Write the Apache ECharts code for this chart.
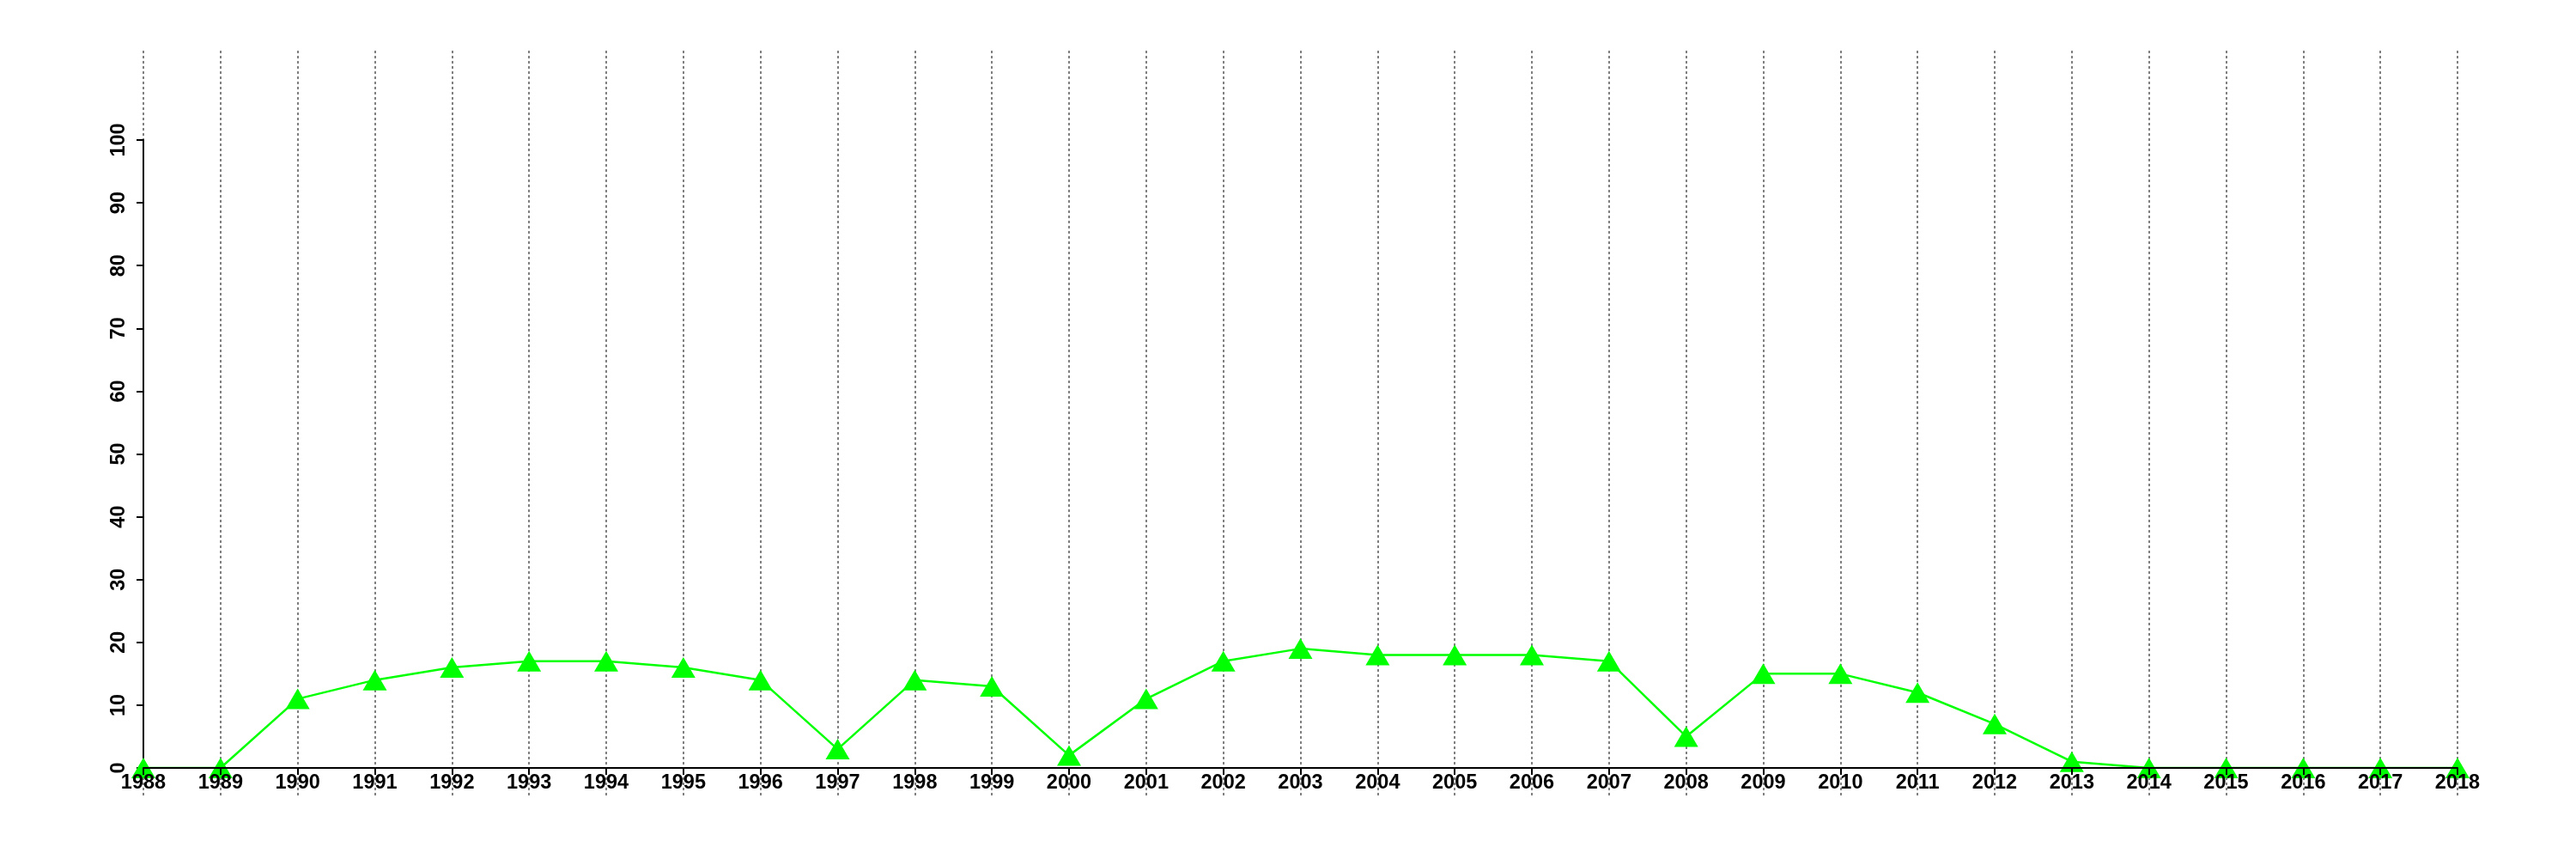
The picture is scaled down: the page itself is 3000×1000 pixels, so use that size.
<!DOCTYPE html>
<html><head><meta charset="utf-8">
<script src="https://cdn.jsdelivr.net/npm/echarts@6/dist/echarts.min.js"></script>
<style>html,body{margin:0;padding:0;background:#fff}#c{width:3000px;height:1000px}</style>
</head><body><div id="c"></div>
<script>
const years = ['1988','1989','1990','1991','1992','1993','1994','1995','1996','1997','1998','1999','2000','2001','2002','2003','2004','2005','2006','2007','2008','2009','2010','2011','2012','2013','2014','2015','2016','2017','2018'];
const values = [0,0,11,14,16,17,17,16,14,3,14,13,2,11,17,19,18,18,18,17,5,15,15,12,7,1,0,0,0,0,0];
const yTicks = [0,10,20,30,40,50,60,70,80,90,100];

const font = {fontFamily:'Liberation Sans, Arial, sans-serif', fontWeight:'bold', fontSize:23.5, color:'#000'};
const chart = echarts.init(document.getElementById('c'), null, {renderer:'canvas'});
chart.setOption({
  animation:false,
  grid:[
    {left:167, right:138, top:163, bottom:106},
    {left:167, right:138, top:59, bottom:73}
  ],
  xAxis:[
    {gridIndex:0, type:'category', data:years, boundaryGap:false,
     axisLine:{lineStyle:{color:'#000', width:2}},
     axisTick:{show:true, length:8, lineStyle:{color:'#000', width:2}, alignWithLabel:true},
     axisLabel:Object.assign({interval:0, margin:6}, font),
     splitLine:{show:false}, z:5},
    {gridIndex:1, type:'category', data:years, boundaryGap:false,
     axisLine:{show:false}, axisTick:{show:false}, axisLabel:{show:false},
     splitLine:{show:true, interval:0, lineStyle:{color:'#808080', width:2, type:[3,3]}}}
  ],
  yAxis:[
    {gridIndex:0, type:'value', min:0, max:100, interval:10,
     axisLine:{show:true, lineStyle:{color:'#000', width:2}},
     axisTick:{show:true, length:8, lineStyle:{color:'#000', width:2}},
     axisLabel:Object.assign({rotate:90, margin:16,
       formatter:function(v){return yTicks.indexOf(v)>=0?String(v):'';}}, font),
     splitLine:{show:false}},
    {gridIndex:1, type:'value', min:0, max:1, show:false, splitLine:{show:false}}
  ],
  series:[{
    type:'line', xAxisIndex:0, yAxisIndex:0, data:values,
    symbol:'triangle', symbolSize:[28,24], showAllSymbol:true,
    lineStyle:{color:'#00ff00', width:2.5},
    itemStyle:{color:'#00ff00', borderWidth:0},
    z:3
  }]
});
</script></body></html>
